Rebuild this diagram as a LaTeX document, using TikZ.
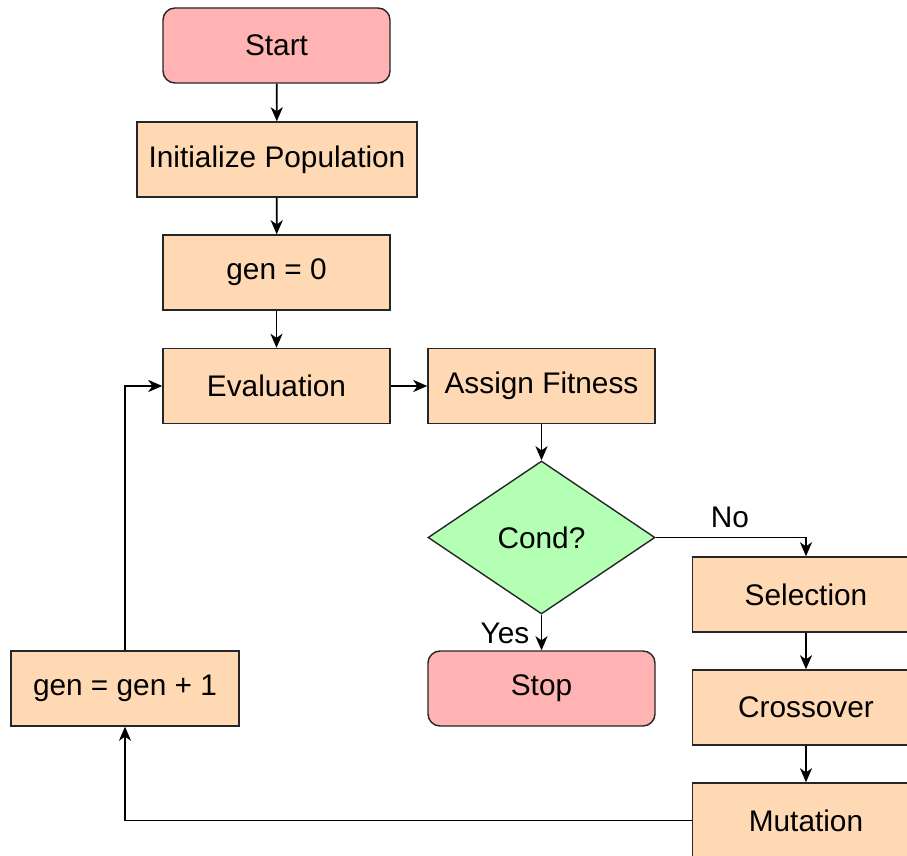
\documentclass[tikz,border=0pt]{standalone}
\usepackage{fontspec}
\setmainfont{Liberation Sans}
\usetikzlibrary{shapes.geometric,arrows.meta}
\definecolor{boxfill}{RGB}{255,217,179}
\definecolor{termfill}{RGB}{255,179,179}
\definecolor{condfill}{RGB}{179,255,179}
\begin{document}
\begin{tikzpicture}[x=0.5pt,y=-0.5pt,
  every node/.style={font=\fontsize{14.9}{18}\selectfont},
  procbox/.style={rectangle,draw=black!85,line width=0.7pt,fill=boxfill,minimum width=113.5pt,minimum height=37.5pt,inner sep=0pt},
  termbox/.style={procbox,rounded corners=6pt,fill=termfill},
  condbox/.style={diamond,aspect=1.5,draw=black!85,line width=0.7pt,fill=condfill,minimum width=113.5pt,minimum height=76.5pt,inner sep=0pt},
  conn/.style={line width=0.9pt,-{Stealth[length=7pt,width=6pt,inset=2pt]}},
  lbl/.style={inner sep=0pt}]
\path[use as bounding box] (0,0) rectangle (907,856);
\clip (0,0) rectangle (907,856);
\node[termbox] (start) at (276.5,45.5) {Start};
\node[procbox,minimum width=140pt] (init) at (277,159.5) {Initialize Population};
\node[procbox] (gen0) at (276.5,272.5) {gen = 0};
\node[procbox] (eval) at (276.5,386) {Evaluation};
\node[procbox] (assign) at (541.5,386) {Assign Fitness};
\node[condbox] (cond) at (541.5,537.5) {Cond?};
\node[termbox] (stop) at (541.5,688.5) {Stop};
\node[procbox] (sel) at (806,594.5) {Selection};
\node[procbox] (cross) at (806,707.5) {Crossover};
\node[procbox] (mut) at (806,820.5) {Mutation};
\node[procbox,minimum width=114pt] (gen1) at (125,688.5) {gen = gen + 1};
\draw[conn] (start) -- (init);
\draw[conn] (init) -- (gen0);
\draw[conn] (gen0) -- (eval);
\draw[conn] (eval) -- (assign);
\draw[conn] (assign) -- (cond);
\draw[conn] (cond) -- (stop);
\draw[conn] (cond.east) -| (sel.north);
\draw[conn] (sel) -- (cross);
\draw[conn] (cross) -- (mut);
\draw[conn] (mut.west) -| (gen1.south);
\draw[conn] (gen1.north) |- (eval.west);
\node[lbl] (yes) at (505,633) {Yes};
\node[lbl] (no) at (730,517) {No};
\end{tikzpicture}
\end{document}
